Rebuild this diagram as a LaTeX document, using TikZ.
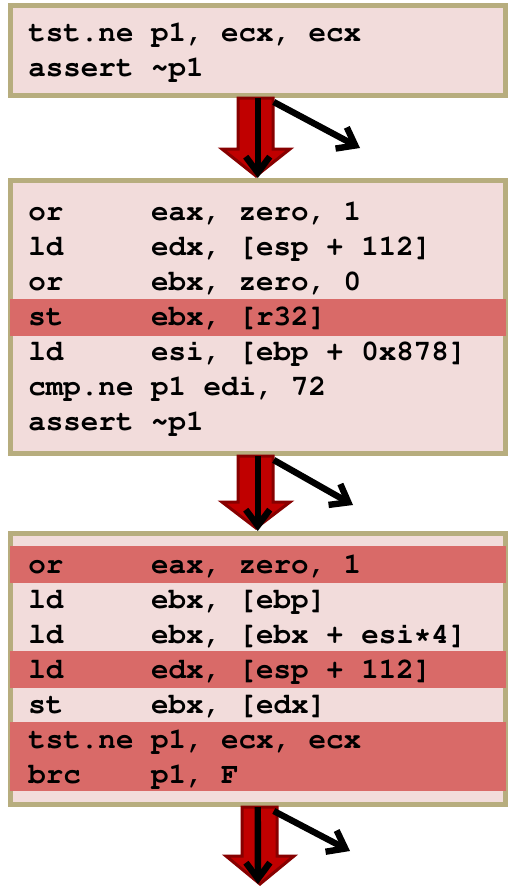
\documentclass[tikz,border=0pt]{standalone}
\usepackage[T1]{fontenc}
\usepackage{courier}
\usepackage{tikz}
\usetikzlibrary{arrows.meta}

\definecolor{boxFill}{RGB}{242,220,219}
\definecolor{boxLine}{RGB}{183,173,126}
\definecolor{hiRed}{RGB}{217,106,104}
\definecolor{arrowRed}{RGB}{192,0,0}
\definecolor{arrowDark}{RGB}{135,0,0}
% mnemonic padded to 7 columns
\newcommand{\ins}[2]{\makebox[4.2em][l]{#1}#2}

\begin{document}
\begin{tikzpicture}
      [x=0.5pt,y=-0.5pt,
       codeBox/.style={draw=boxLine,fill=boxFill,line width=2.5pt,inner sep=0pt,minimum width=247.75pt},
       codeLine/.style={anchor=base west,inner sep=0pt,font=\fontsize{14.6}{17}\selectfont\ttfamily\bfseries},
       hiRow/.style={fill=hiRed},
       bigArrow/.style={fill=arrowRed,draw=arrowDark,line width=1.5pt},
       flow/.style={line width=3.2pt,-{Straight Barb[length=8pt,width=12pt]}}]
      \useasboundingbox (0,0) rectangle (510,889);

      \node[codeBox,minimum height=45pt] (b1) at (257.75,50.5) {};
      \node[codeBox,minimum height=136.5pt] (b2) at (257.75,317) {};
      \node[codeBox,minimum height=135.5pt] (b3) at (257.75,669) {};

      % marked rows
      \foreach \ya/\yb in {299/336,546/583,651/688,722/791}
      \fill[hiRow] (10,\ya) rectangle (505.5,\yb);

      \foreach \y/\op/\arg [count=\i] in {41/tst.ne/{p1, ecx, ecx},76/assert/{\textasciitilde p1},
          220/or/{eax, zero, 1},255/ld/{edx, [esp + 112]},290/or/{ebx, zero, 0},325/st/{ebx, [r32]},
          360/ld/{esi, [ebp + 0x878]},395/cmp.ne/{p1 edi, 72},430/assert/{\textasciitilde p1},
          573/or/{eax, zero, 1},608/ld/{ebx, [ebp]},643/ld/{ebx, [ebx + esi*4]},678/ld/{edx, [esp + 112]},
          713/st/{ebx, [edx]},748/tst.ne/{p1, ecx, ecx},783/brc/{p1, F}}
      \node[codeLine] (t\i) at (28,\y) {\ins{\op}{\arg}};

      % thick red arrows
      \foreach \ya/\yh/\yb/\xs in {98/149/176/0,456/502/528/0,807/856/884/4}
      \filldraw[bigArrow] (238+\xs,\ya) -- (238+\xs,\yh) -- (222+\xs,\yh) -- (256+\xs,\yb)
          -- (290+\xs,\yh) -- (273+\xs,\yh) -- (273+\xs,\ya) -- cycle;

      \coordinate (out) at (258,884);
      \coordinate (f1) at (360,148);
      \coordinate (f2) at (353,505);
      \coordinate (f3) at (350,851);

      \foreach \from/\to in {b1/b2,b2/b3,b3/out}
      \draw[flow] (\from.south) -- (\to);

      \foreach \from/\to in {b1/f1,b2/f2,b3/f3}
      % side exit
      \draw[flow] ([xshift=8pt,yshift=-2pt]\from.south) -- (\to);
    \end{tikzpicture}
\end{document}
